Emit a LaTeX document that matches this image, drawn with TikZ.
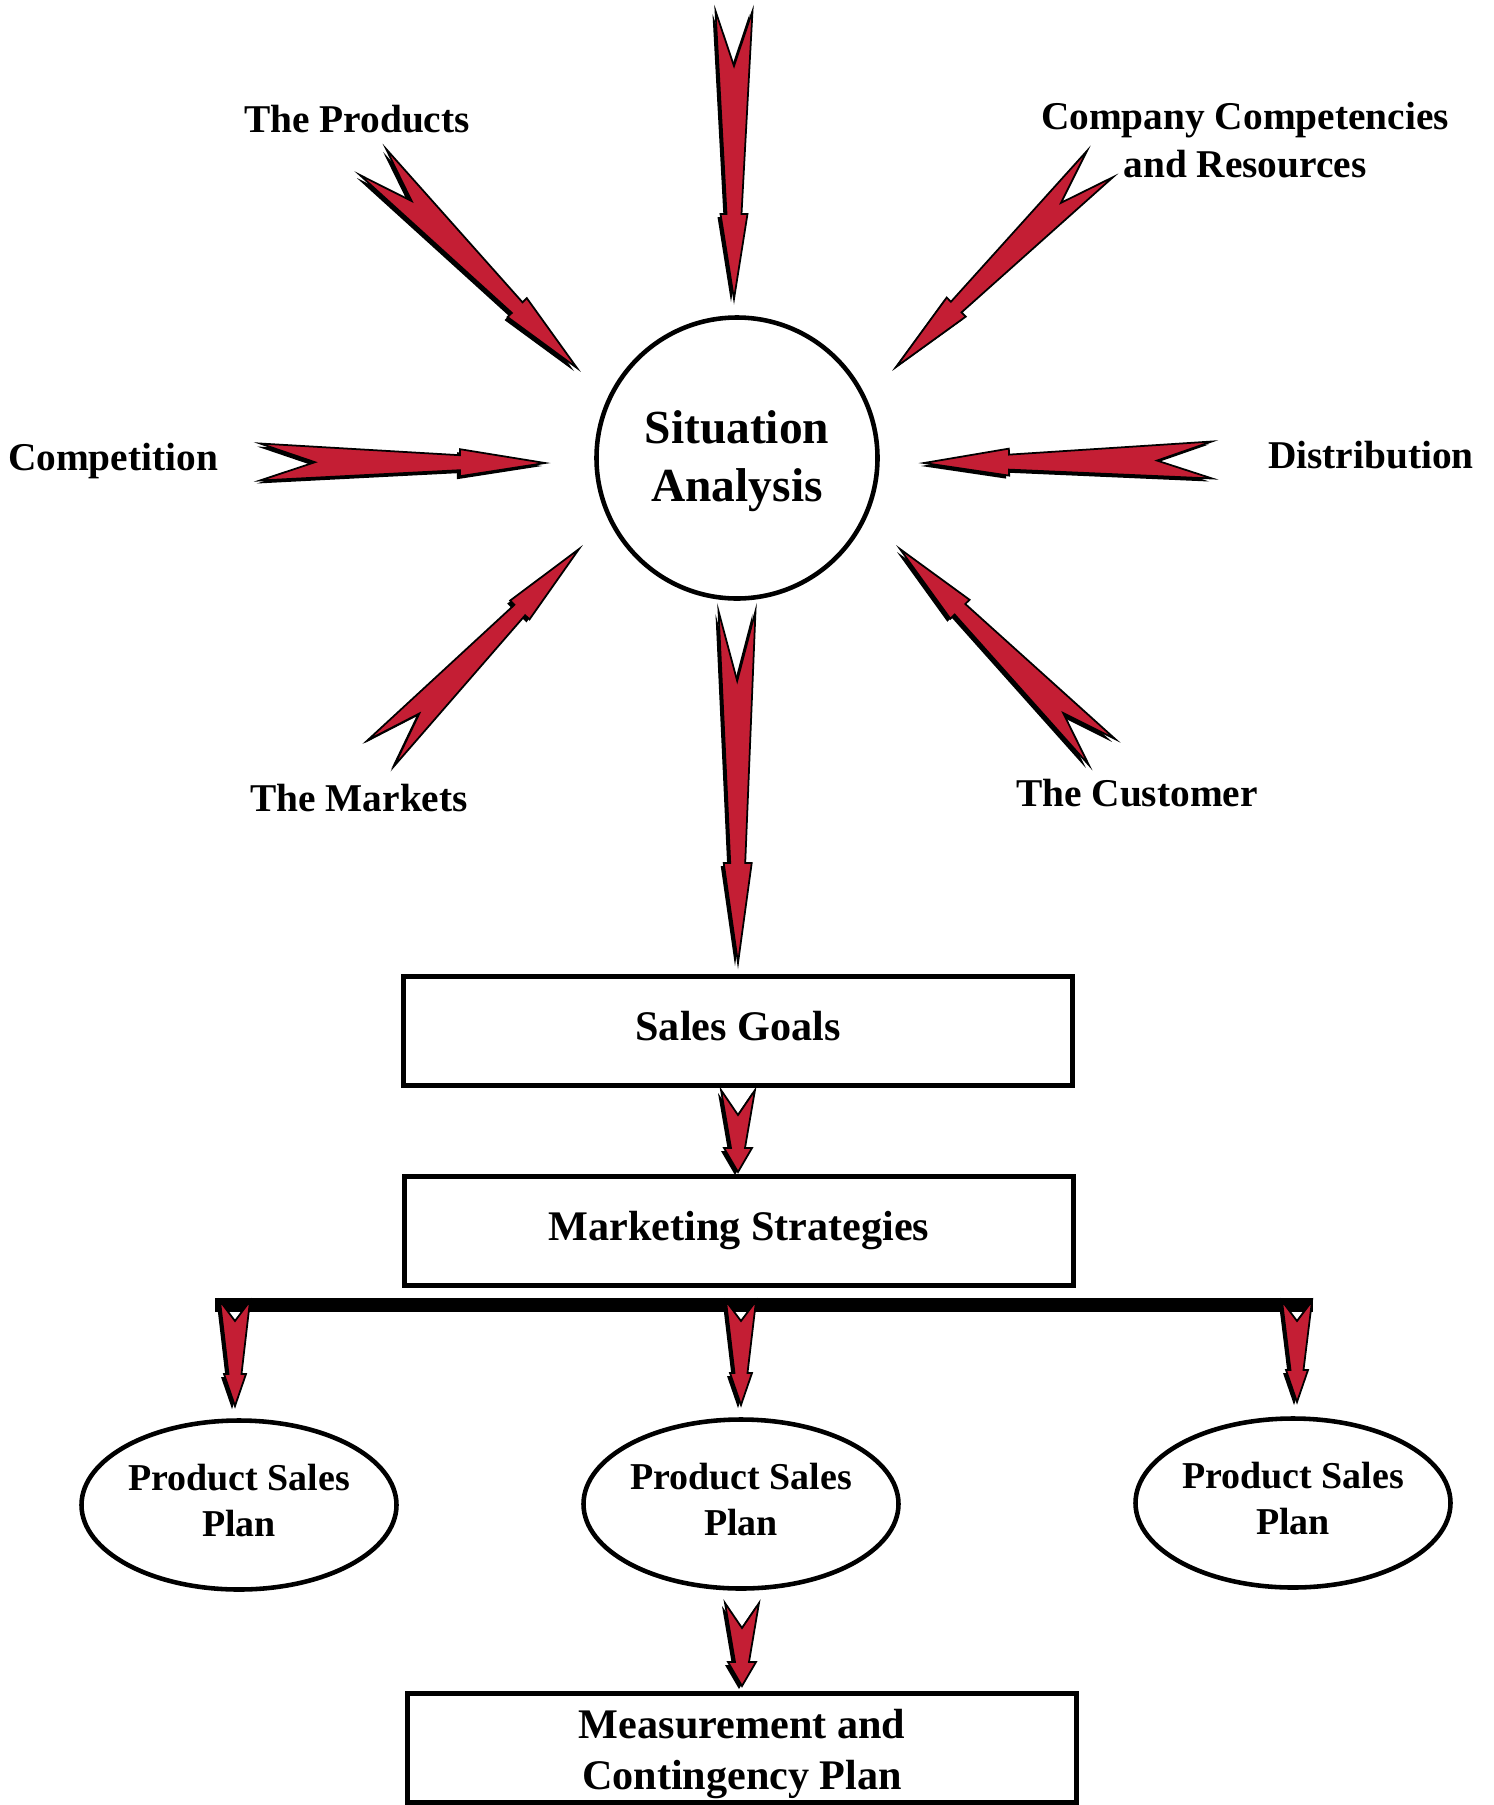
\documentclass[tikz,border=0pt]{standalone}
\usepackage{fontspec}
\setmainfont{Liberation Serif}
\usetikzlibrary{calc,shapes.geometric}
\definecolor{arrowred}{RGB}{196,30,52}
% fancy arrow: #1 tail, #2 tip, #3 wing half width, #4 notch depth, #5 shaft half width at head, #6 head half width, #7 head length
\newcommand{\farrow}[7]{%
  \coordinate (fhb) at ($(#2)!#7!(#1)$);
  \coordinate (fn) at ($(#1)!#4!(#2)$);
  \coordinate (fw1) at ($(#1)!#3!90:(#2)$);
  \coordinate (fw2) at ($(#1)!#3!-90:(#2)$);
  \coordinate (fs1) at ($(fhb)!#5!-90:(#1)$);
  \coordinate (fs2) at ($(fhb)!#5!90:(#1)$);
  \coordinate (fh1) at ($(fhb)!#6!-90:(#1)$);
  \coordinate (fh2) at ($(fhb)!#6!90:(#1)$);
  \begin{scope}[transform canvas={shift={(-0.3mm,-0.3mm)}}]
    \fill[black] (fw1) -- (fs1) -- (fh1) -- (#2) -- (fh2) -- (fs2) -- (fw2) -- (fn) -- cycle;
  \end{scope}
  \filldraw[fill=arrowred, draw=black, line width=0.5pt, line join=miter]
    (fw1) -- (fs1) -- (fh1) -- (#2) -- (fh2) -- (fs2) -- (fw2) -- (fn) -- cycle;
}
\newcommand{\radarrow}[2]{\farrow{#1}{#2}{1.85mm}{5.5mm}{0.75mm}{1.35mm}{8.5mm}}
\newcommand{\longarrow}[2]{\farrow{#1}{#2}{1.85mm}{7mm}{0.75mm}{1.4mm}{10mm}}
\newcommand{\shortarrow}[2]{\farrow{#1}{#2}{1.7mm}{2.5mm}{0.7mm}{1.4mm}{2.4mm}}
\newcommand{\bararrow}[2]{\farrow{#1}{#2}{1.5mm}{2mm}{0.65mm}{1.1mm}{3.2mm}}
\begin{document}
\begin{tikzpicture}[x=0.1mm,y=-0.1mm,
  lbl/.style={font=\fontsize{11.2}{13.8}\selectfont\bfseries, align=center, inner sep=0},
  boxnode/.style={draw, line width=1.3pt, minimum width=66.9mm, minimum height=10.9mm, inner sep=0,
    font=\fontsize{12}{14.5}\selectfont\bfseries, align=center},
  plan/.style={ellipse, draw, line width=1.3pt, minimum width=31.5mm, minimum height=16.9mm, inner sep=0,
    align=center, font=\fontsize{10.8}{13.1}\selectfont\bfseries},
  center/.style={circle, draw, line width=1.3pt, minimum size=28.1mm, inner sep=0, align=center,
    font=\fontsize{13.5}{16.4}\selectfont\bfseries}]
\useasboundingbox[fill=white] (0,0) rectangle (1494,1805);

% central node
\node[center] (sa) at (737,458) {\rule{0pt}{11.3pt}Situation\\Analysis};

% labels
\node[lbl] (prod) at (357,119) {The Products};
\node[lbl] (comp) at (1245,140) {Company Competencies\\and Resources};
\node[lbl] (competition) at (113,461) {Competition};
\node[lbl] (dist) at (1371,455) {Distribution};
\node[lbl] (mark) at (359,798) {The Markets};
\node[lbl] (cust) at (1137,793) {The Customer};

% radial arrow ends
\coordinate (ttop) at (734,11);   \coordinate (htop) at (734,299);
\coordinate (tprod) at (373,162); \coordinate (hprod) at (577,368);
\coordinate (tcomp) at (1100,164); \coordinate (hcomp) at (896,367);
\coordinate (tcompet) at (260,462); \coordinate (hcompet) at (545,463);
\coordinate (tdist) at (1212,460); \coordinate (hdist) at (924,463);
\coordinate (tmark) at (381,753); \coordinate (hmark) at (579,549);
\coordinate (tcust) at (1102,752); \coordinate (hcust) at (900,549);

\radarrow{ttop}{htop}
\radarrow{tprod}{hprod}
\radarrow{tcomp}{hcomp}
\radarrow{tcompet}{hcompet}
\radarrow{tdist}{hdist}
\radarrow{tmark}{hmark}
\radarrow{tcust}{hcust}

% boxes
\node[boxnode] (sg) at (738,1031) {Sales Goals\vphantom{g}};
\node[boxnode] (ms) at (739,1231) {Marketing Strategies};
\node[boxnode] (meas) at (742,1748) {\rule{0pt}{11.6pt}Measurement and\\Contingency Plan};

% plans
\node[plan] (p1) at (239,1505) {Product Sales\\Plan\rule[-2.6pt]{0pt}{2.6pt}};
\node[plan] (p2) at (741,1504) {Product Sales\\Plan\rule[-2.6pt]{0pt}{2.6pt}};
\node[plan] (p3) at (1293,1503) {Product Sales\\Plan\rule[-2.6pt]{0pt}{2.6pt}};

% long arrow from circle to sales goals
\coordinate (tlong) at (737,611); \coordinate (hlong) at (738,963);
\longarrow{tlong}{hlong}

% sales goals -> marketing
\coordinate (tsg) at (738,1090); \coordinate (hsg) at (738,1172);
\shortarrow{tsg}{hsg}

% bar
\coordinate (bl) at (215,1305); \coordinate (br) at (1313,1305);
\draw[line width=4pt] (bl) -- (br);

\coordinate (tb1) at (235,1301); \coordinate (hb1) at (235,1406);
\coordinate (tb2) at (741,1301); \coordinate (hb2) at (741,1405);
\coordinate (tb3) at (1297,1301); \coordinate (hb3) at (1297,1402);
\bararrow{tb1}{hb1}
\bararrow{tb2}{hb2}
\bararrow{tb3}{hb3}

% plan -> measurement
\coordinate (tpm) at (742,1603); \coordinate (hpm) at (742,1686);
\shortarrow{tpm}{hpm}
\end{tikzpicture}
\end{document}
